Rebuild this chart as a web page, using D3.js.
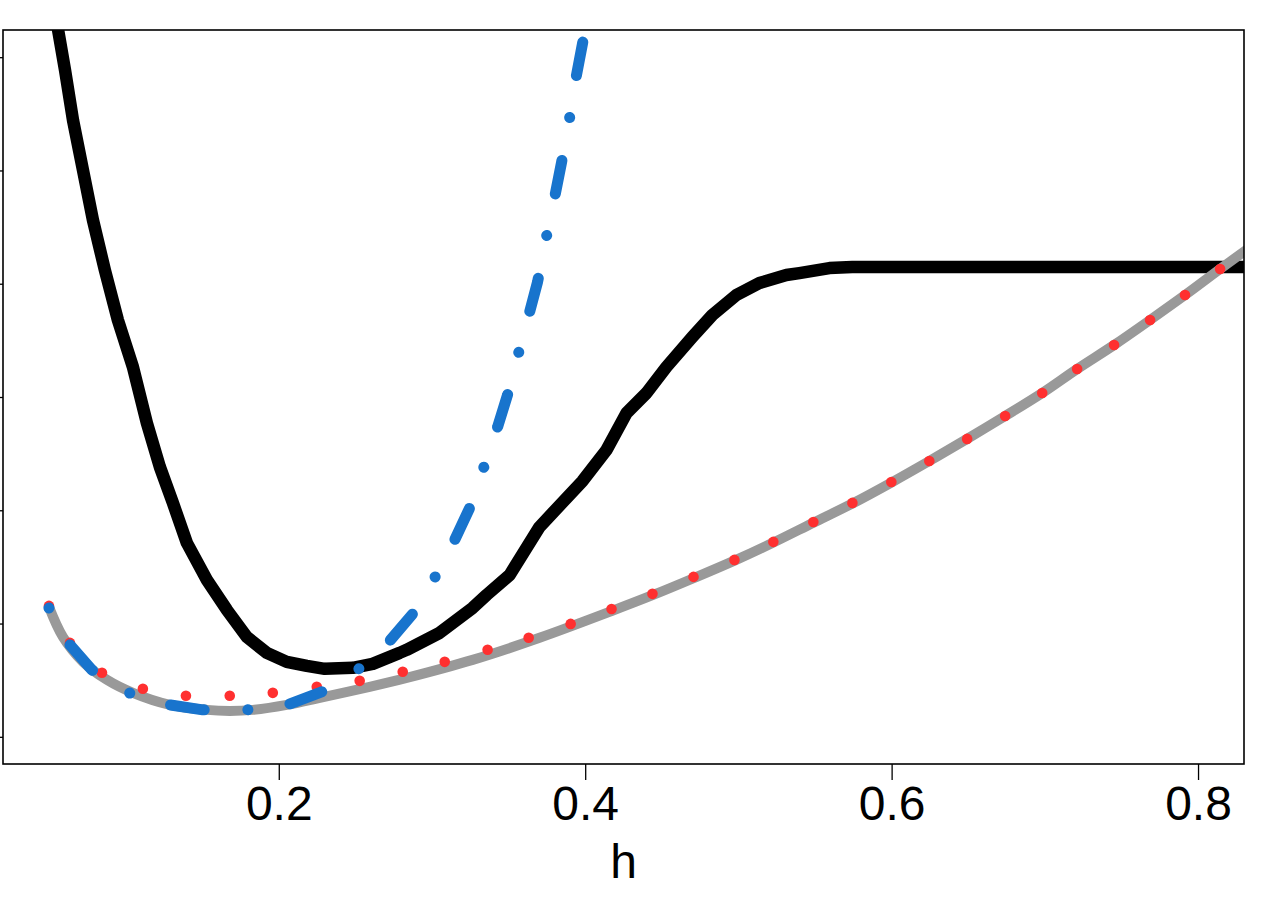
<!DOCTYPE html>
<html>
<head>
<meta charset="utf-8">
<script src="https://cdn.jsdelivr.net/npm/d3@7"></script>
<style>
  body { margin: 0; background: #fff; }
  svg { display: block; font-family: "Liberation Sans", Arial, sans-serif; }
</style>
</head>
<body>
<div id="main"></div>
<script>
(function() {
  // black curve
  const blackH = [0.0526, 0.0605, 0.0657, 0.0722, 0.0787, 0.0865, 0.0950, 0.1048, 0.1139, 0.1224,
    0.1309, 0.1400, 0.1531, 0.1661, 0.1791, 0.1922, 0.2052, 0.2183, 0.2300, 0.2483,
    0.2613, 0.2789, 0.2835, 0.3050, 0.3265, 0.3357, 0.3507, 0.3702, 0.3983, 0.4139,
    0.4270, 0.4400, 0.4530, 0.4700, 0.4830, 0.4987, 0.5137, 0.5313, 0.5398, 0.5594,
    0.5743, 0.5920, 0.8333];
  const blackV = [6.503, 5.885, 5.444, 5.003, 4.562, 4.120, 3.679, 3.265, 2.771, 2.382,
    2.065, 1.712, 1.385, 1.121, 0.882, 0.741, 0.662, 0.626, 0.600, 0.609,
    0.644, 0.741, 0.768, 0.918, 1.138, 1.253, 1.429, 1.853, 2.259, 2.532,
    2.859, 3.035, 3.265, 3.530, 3.724, 3.900, 4.006, 4.077, 4.094, 4.138,
    4.147, 4.147, 4.147];

  // grey curve
  const grayH = [0.0500, 0.0591, 0.0722, 0.0878, 0.1048, 0.1289, 0.1531, 0.1680, 0.1830, 0.2052,
    0.2268, 0.2593, 0.2835, 0.3265, 0.3702, 0.4172, 0.4439, 0.4707, 0.4974, 0.5228,
    0.5489, 0.5744, 0.5998, 0.6246, 0.6493, 0.6741, 0.6983, 0.7211, 0.7452, 0.7687,
    0.7915, 0.8144, 0.8333];
  const grayV = [1.147, 0.882, 0.662, 0.503, 0.388, 0.282, 0.238, 0.229, 0.238, 0.282,
    0.344, 0.441, 0.520, 0.679, 0.874, 1.110, 1.250, 1.400, 1.555, 1.715,
    1.890, 2.060, 2.245, 2.435, 2.630, 2.832, 3.035, 3.247, 3.459, 3.680,
    3.900, 4.130, 4.315];

  // red dotted curve
  const redH = [0.0500, 0.0637, 0.0846, 0.1113, 0.1394, 0.1680, 0.1961, 0.2248, 0.2528, 0.2809,
    0.3083, 0.3363, 0.3631, 0.3905, 0.4172, 0.4439, 0.4707, 0.4974, 0.5228, 0.5489,
    0.5744, 0.5998, 0.6246, 0.6493, 0.6741, 0.6983, 0.7211, 0.7452, 0.7687, 0.7915, 0.8144];
  const redV = [1.156, 0.829, 0.565, 0.424, 0.362, 0.362, 0.388, 0.441, 0.494, 0.574,
    0.662, 0.768, 0.874, 0.997, 1.129, 1.262, 1.412, 1.562, 1.721, 1.897,
    2.065, 2.250, 2.435, 2.630, 2.832, 3.035, 3.247, 3.459, 3.680, 3.900, 4.130];

  // blue dot-dash curve
  const blueH = [0.0500, 0.0637, 0.0780, 0.1022, 0.1289, 0.1504, 0.1791, 0.2072, 0.2280, 0.2522,
    0.2724, 0.2874, 0.3017, 0.3148, 0.3246, 0.3337, 0.3428, 0.3493, 0.3565, 0.3637,
    0.3689, 0.3748, 0.3806, 0.3846, 0.3898, 0.3943, 0.3983, 0.4009];
  const blueV = [1.138, 0.812, 0.591, 0.388, 0.282, 0.238, 0.238, 0.291, 0.397, 0.600,
    0.847, 1.085, 1.403, 1.738, 2.021, 2.374, 2.735, 3.018, 3.388, 3.750,
    4.015, 4.421, 4.800, 5.074, 5.462, 5.841, 6.124, 6.327];

  const xTicks = [0.2, 0.4, 0.6, 0.8];
  const yTicks = [0, 1, 2, 3, 4, 5, 6];
  const xLabel = "h";

  const W = 1275, H = 900;
  const left = 3, right = 1244, top = 30, bottom = 764;

  const x = d3.scaleLinear().domain([0.02, 0.83]).range([left, right]);
  const y = d3.scaleLinear().domain([-0.24, 6.24]).range([bottom, top]);

  const svg = d3.select("#main").append("svg")
    .attr("width", W)
    .attr("height", H);

  svg.append("rect")
    .attr("width", W).attr("height", H).attr("fill", "#fff");

  svg.append("clipPath").attr("id", "plot-clip")
    .append("rect")
    .attr("x", left).attr("y", top)
    .attr("width", right - left).attr("height", bottom - top);

  const zip = (hs, vs) => hs.map((h, i) => [h, vs[i]]);
  const line = d3.line().x(d => x(d[0])).y(d => y(d[1]));
  const smooth = d3.line().x(d => x(d[0])).y(d => y(d[1])).curve(d3.curveCatmullRom);

  const plot = svg.append("g").attr("clip-path", "url(#plot-clip)");

  plot.append("path")
    .datum(zip(blackH, blackV))
    .attr("d", line)
    .attr("fill", "none")
    .attr("stroke", "#000")
    .attr("stroke-width", 12.5)
    .attr("stroke-linejoin", "round")
    .attr("stroke-linecap", "round");

  plot.append("path")
    .datum(zip(grayH, grayV))
    .attr("d", smooth)
    .attr("fill", "none")
    .attr("stroke", "#999999")
    .attr("stroke-width", 10)
    .attr("stroke-linejoin", "round")
    .attr("stroke-linecap", "round");

  plot.append("g")
    .selectAll("circle")
    .data(zip(redH, redV))
    .join("circle")
    .attr("cx", d => x(d[0]))
    .attr("cy", d => y(d[1]))
    .attr("r", 5.3)
    .attr("fill", "#ff3030");

  plot.append("path")
    .datum(zip(blueH, blueV))
    .attr("d", line)
    .attr("fill", "none")
    .attr("stroke", "#1874cd")
    .attr("stroke-width", 11)
    .attr("stroke-linejoin", "round")
    .attr("stroke-linecap", "round")
    .attr("stroke-dasharray", "0.01,42.5,34,43.7");

  // axes
  const xAxis = svg.append("g")
    .attr("transform", `translate(0,${bottom})`)
    .call(d3.axisBottom(x).tickValues(xTicks).tickSize(16).tickPadding(6)
      .tickFormat(d3.format(".1f")));
  xAxis.select(".domain").remove();
  xAxis.selectAll("line").attr("stroke", "#000").attr("stroke-width", 1.3);
  xAxis.selectAll("text")
    .attr("font-size", 48)
    .attr("font-family", "Liberation Sans, Arial, sans-serif")
    .attr("fill", "#000");

  const yAxis = svg.append("g")
    .attr("transform", `translate(${left},0)`)
    .call(d3.axisLeft(y).tickValues(yTicks).tickSize(15).tickFormat(""));
  yAxis.select(".domain").remove();
  yAxis.selectAll("line").attr("stroke", "#000").attr("stroke-width", 1.3);

  svg.append("rect")
    .attr("x", left).attr("y", top)
    .attr("width", right - left).attr("height", bottom - top)
    .attr("fill", "none")
    .attr("stroke", "#000")
    .attr("stroke-width", 1.6);

  svg.append("text")
    .attr("x", (left + right) / 2)
    .attr("y", 878)
    .attr("text-anchor", "middle")
    .attr("font-size", 48)
    .attr("fill", "#000")
    .text(xLabel);
})();
</script>
</body>
</html>
